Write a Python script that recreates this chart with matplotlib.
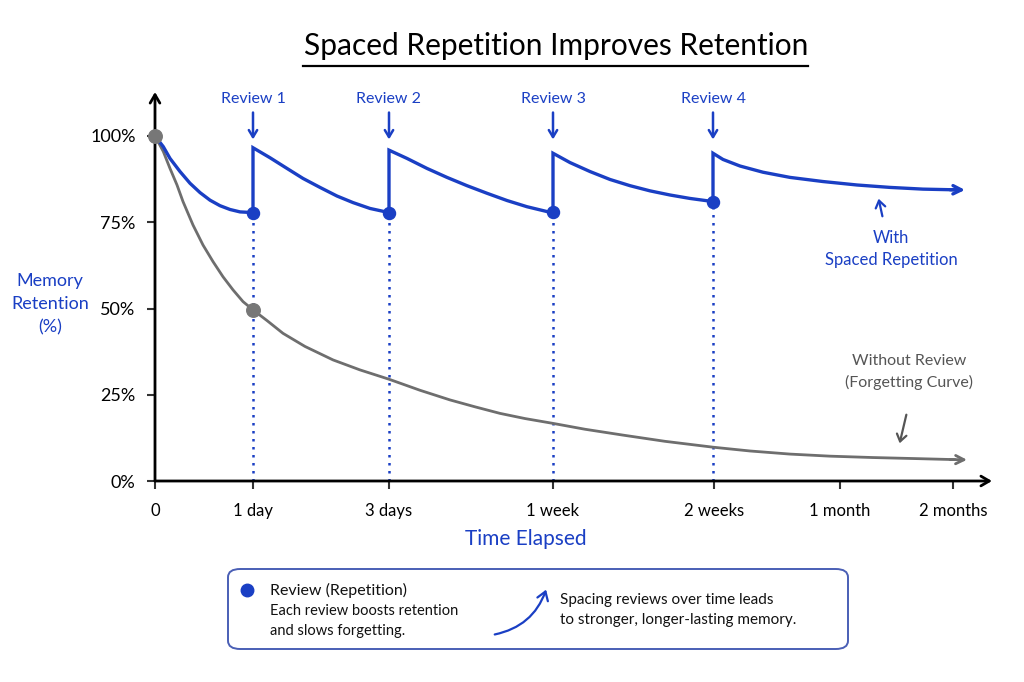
import matplotlib
matplotlib.use("Agg")
import matplotlib.pyplot as plt
from matplotlib.patches import FancyBboxPatch, FancyArrowPatch
from matplotlib.lines import Line2D

plt.rcParams['font.family'] = ['Lato', 'DejaVu Sans']

# ---------------- data ----------------
tick_pos = [0, 0.98, 2.34, 3.98, 5.59, 6.85, 7.98]
tick_labels = ["0", "1 day", "3 days", "1 week", "2 weeks", "1 month", "2 months"]
y_ticks = [0, 25, 50, 75, 100]
y_tick_labels = ["0%", "25%", "50%", "75%", "100%"]

with_x = [0, 0.083, 0.15, 0.25, 0.35, 0.45, 0.55, 0.65, 0.75, 0.85, 0.98,
          0.98, 1.15, 1.32, 1.48, 1.65, 1.82, 1.98, 2.15, 2.34,
          2.34, 2.52, 2.72, 2.92, 3.12, 3.32, 3.52, 3.72, 3.92, 3.98,
          3.98, 4.15, 4.35, 4.55, 4.75, 4.95, 5.15, 5.35, 5.58,
          5.58, 5.68, 5.85, 6.08, 6.35, 6.68, 7.02, 7.35, 7.68, 8.0]
with_y = [100, 96.9, 93.5, 89.7, 86.3, 83.6, 81.4, 79.8, 78.7, 78.0, 77.8,
          96.6, 93.7, 90.6, 87.7, 85.1, 82.6, 80.7, 79.0, 77.8,
          95.9, 93.5, 90.6, 88.0, 85.6, 83.4, 81.3, 79.5, 78.1, 77.9,
          95.0, 92.3, 89.7, 87.4, 85.6, 84.1, 82.9, 81.9, 81.0,
          95.0, 93.2, 91.3, 89.5, 88.0, 86.8, 85.8, 85.1, 84.6, 84.4]

without_x = [0, 0.083, 0.15, 0.22, 0.28, 0.38, 0.48, 0.58, 0.68, 0.78, 0.88, 0.98,
             1.12, 1.28, 1.5, 1.78, 2.05, 2.34, 2.65, 2.95, 3.2, 3.45, 3.7, 3.98,
             4.3, 4.68, 5.1, 5.58, 5.95, 6.35, 6.75, 7.18, 7.6, 8.0]
without_y = [100, 95.5, 90.6, 85.8, 81.0, 74.2, 68.4, 63.6, 59.2, 55.4, 52.0, 49.6,
             46.5, 42.8, 39.0, 35.1, 32.2, 29.5, 26.3, 23.5, 21.5, 19.6, 18.1, 16.7,
             15.0, 13.3, 11.5, 9.8, 8.7, 7.8, 7.2, 6.8, 6.5, 6.2]

review_x = [0.98, 2.34, 3.98, 5.58]
review_y = [77.8, 77.8, 77.9, 81]
review_labels = ["Review 1", "Review 2", "Review 3", "Review 4"]
gray_dot_x = [0, 0.98]
gray_dot_y = [100, 49.6]

BLUE = '#1a3fc4'
GRAY = '#6e6e6e'
DGRAY = '#555555'

W, H = 1024, 682
fig = plt.figure(figsize=(W / 100, H / 100), dpi=100)


def P(x, y):
    return (x / W, 1 - y / H)


ax_left, ax_right, ax_bottom, ax_top = 155, 992, 481, 92
ax = fig.add_axes([ax_left / W, 1 - ax_bottom / H, (ax_right - ax_left) / W, (ax_bottom - ax_top) / H])
ax.set_xlim(0, (ax_right - ax_left) / 100)
ax.set_ylim(0, (ax_bottom - ax_top) / 3.45)
for s in ax.spines.values():
    s.set_visible(False)
ax.patch.set_alpha(0)

# axes arrows
ax.annotate("", xy=(0, 1), xytext=(0, 0), xycoords='axes fraction',
            arrowprops=dict(arrowstyle='->,head_length=0.6,head_width=0.35', lw=2, color='black',
                            shrinkA=0, shrinkB=0), annotation_clip=False)
ax.annotate("", xy=(1, 0), xytext=(0, 0), xycoords='axes fraction',
            arrowprops=dict(arrowstyle='->,head_length=0.6,head_width=0.35', lw=2, color='black',
                            shrinkA=0, shrinkB=0), annotation_clip=False)

ax.set_xticks(tick_pos)
ax.set_xticklabels(tick_labels, fontsize=12)
ax.set_yticks(y_ticks)
ax.set_yticklabels(y_tick_labels, fontsize=13)
ax.tick_params(axis='both', length=6, width=1.5, color='#333333', pad=8)
ax.tick_params(axis='x', pad=10)

# dotted review lines
for rx, ry in zip(review_x, review_y):
    ax.plot([rx, rx], [0, ry], linestyle=(0, (1, 2.2)), color=BLUE, lw=1.8, zorder=2)

# forgetting curve
ax.plot(without_x, without_y, color=GRAY, lw=2, zorder=3, solid_capstyle='round')
ax.annotate("", xy=(without_x[-1] + 0.12, without_y[-1] - 0.05), xytext=(without_x[-1] - 0.05, without_y[-1] + 0.02),
            arrowprops=dict(arrowstyle='->,head_length=0.6,head_width=0.3', lw=2, color=GRAY,
                            shrinkA=0, shrinkB=0), annotation_clip=False)

# with spaced repetition
ax.plot(with_x, with_y, color=BLUE, lw=2.4, zorder=4, solid_joinstyle='miter', solid_capstyle='round')
ax.annotate("", xy=(with_x[-1] + 0.1, with_y[-1] - 0.03), xytext=(with_x[-1] - 0.05, with_y[-1] + 0.03),
            arrowprops=dict(arrowstyle='->,head_length=0.6,head_width=0.3', lw=2.4, color=BLUE,
                            shrinkA=0, shrinkB=0), annotation_clip=False)

ax.scatter(review_x, review_y, s=75, color=BLUE, zorder=5)
ax.scatter(gray_dot_x, gray_dot_y, s=95, color='#777777', zorder=6, clip_on=False)

# review labels with arrows
for rx, lab in zip(review_x, review_labels):
    ax.text(rx, 110.6, lab, ha='center', va='center', fontsize=11.5, color=BLUE, clip_on=False)
    ax.annotate("", xy=(rx, 99.0), xytext=(rx, 106.8),
                arrowprops=dict(arrowstyle='->,head_length=0.5,head_width=0.3', lw=1.8, color=BLUE,
                                shrinkA=0, shrinkB=0), annotation_clip=False)

# title
fig.text(*P(556, 46), "Spaced Repetition Improves Retention", ha='center', va='center', fontsize=21.5, color='black')
fig.add_artist(Line2D([303 / W, 808 / W], [1 - 66 / H, 1 - 66 / H], color='black', lw=1.6))

# axis labels
fig.text(*P(50, 304), "Memory\nRetention\n(%)", ha='center', va='center', fontsize=13, color=BLUE,
         linespacing=1.55)
fig.text(*P(526, 539), "Time Elapsed", ha='center', va='center', fontsize=15, color=BLUE)

# series annotations
fig.text(*P(891, 249), "With\nSpaced Repetition", ha='center', va='center', fontsize=12, color=BLUE,
         linespacing=1.5)
fig.add_artist(FancyArrowPatch(P(883, 219), P(878, 196), transform=fig.transFigure,
                               arrowstyle='->,head_length=5,head_width=3.5', lw=1.6, color=BLUE))
fig.text(*P(909, 372), "Without Review\n(Forgetting Curve)", ha='center', va='center', fontsize=11.5,
         color=DGRAY, linespacing=1.5)
fig.add_artist(FancyArrowPatch(P(907, 412), P(899, 446), transform=fig.transFigure,
                               arrowstyle='->,head_length=5,head_width=3.5', lw=1.6, color=DGRAY))

# legend box
bx0, by0, bx1, by1 = 228, 569, 848, 649
fig.add_artist(FancyBboxPatch(P(bx0, by1), (bx1 - bx0) / W, (by1 - by0) / H,
                              boxstyle='round,pad=0,rounding_size=0.012', transform=fig.transFigure,
                              facecolor='white', edgecolor='#4a5fb5', lw=1.4))
fig.add_artist(Line2D([247 / W], [1 - 590 / H], marker='o', markersize=9, color=BLUE, linestyle='none'))
fig.text(*P(270, 590), "Review (Repetition)", ha='left', va='center', fontsize=11.5, color='#111111')
fig.text(*P(270, 621), "Each review boosts retention\nand slows forgetting.", ha='left', va='center',
         fontsize=10.5, color='#111111', linespacing=1.5)
fig.add_artist(FancyArrowPatch(P(492, 635), P(547, 587), transform=fig.transFigure,
                               connectionstyle='arc3,rad=0.3',
                               arrowstyle='->,head_length=6,head_width=4', lw=1.6, color=BLUE))
fig.text(*P(560, 610), "Spacing reviews over time leads\nto stronger, longer-lasting memory.", ha='left',
         va='center', fontsize=11, color='#111111', linespacing=1.5)

fig.savefig("out.png", dpi=100, facecolor='white')
